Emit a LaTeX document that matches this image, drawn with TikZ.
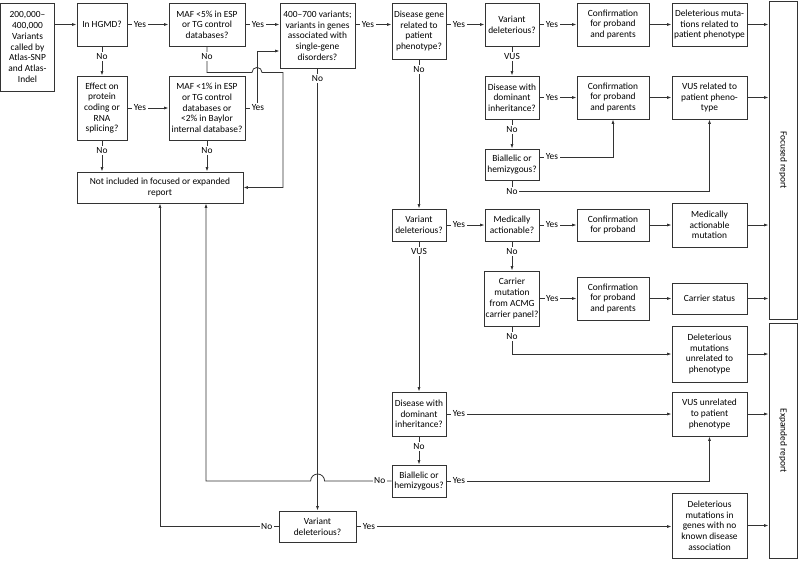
\documentclass[tikz,border=0pt]{standalone}
\usepackage{fontspec}
\setmainfont{Carlito}
\usetikzlibrary{arrows.meta}

\begin{document}
\begin{tikzpicture}[x=1pt,y=-1pt,font=\fontsize{9.4}{10.7}\selectfont,
  box/.style={draw=black!80, line width=0.8pt, align=center, inner sep=1pt},
  sz/.style 2 args={minimum width=#1pt, minimum height=#2pt},
  arr/.style={draw=black!80, line width=0.8pt, -{Latex[length=4.5pt,width=3pt]}},
  rlab/.style={fill=white, inner sep=1.5pt, anchor=west, xshift=4.5pt},
  llab/.style={fill=white, inner sep=1.5pt, anchor=east, xshift=-4.5pt},
  dlab/.style={fill=white, inner sep=1.5pt, anchor=north, yshift=-5pt},
  clab/.style={fill=white, inner sep=1.5pt}]
\useasboundingbox (0,0) rectangle (800,560);

\node[box, sz={54}{88}] (start) at (27.5,47) {200,000--\\400,000\\Variants\\called by\\Atlas-SNP\\and Atlas-\\Indel};
\node[box, sz={50}{43}] (hgmd) at (102,24.5) {In HGMD?};
\node[box, sz={76}{43}] (maf5) at (207,24.5) {MAF <5\% in ESP\\or TG control\\databases?};
\node[box, sz={50}{64}] (effect) at (102,108) {Effect on\\protein\\coding or\\RNA\\splicing?};
\node[box, sz={76}{64}] (maf1) at (207,108) {MAF <1\% in ESP\\or TG control\\databases or\\<2\% in Baylor\\internal database?};
\node[box, sz={166}{31}] (notinc) at (160,187.5) {Not included in focused or expanded\\report};
\node[box, sz={75}{65}] (genes) at (317.5,35.5) {400--700 variants;\\variants in genes\\associated with\\single-gene\\disorders?};
\node[box, sz={54}{56}] (dgene) at (419,31) {Disease gene\\related to\\patient\\phenotype?};
\node[box, sz={54}{43}] (vdel1) at (512,24.5) {Variant\\deleterious?};
\node[box, sz={72}{43}] (conf1) at (613,24.5) {Confirmation\\for proband\\and parents};
\node[box, sz={75}{43}] (delrel) at (709.5,24.5) {Deleterious muta-\\tions related to\\patient phenotype};
\node[box, sz={54}{43}] (dom1) at (512,97.5) {Disease with\\dominant\\inheritance?};
\node[box, sz={72}{43}] (conf2) at (613,97.5) {Confirmation\\for proband\\and parents};
\node[box, sz={75}{43}] (vusrel) at (709.5,97.5) {VUS related to\\patient pheno-\\type};
\node[box, sz={54}{31}] (bial1) at (512,164.5) {Biallelic or\\hemizygous?};
\node[box, sz={54}{32}] (vdel2) at (419,225) {Variant\\deleterious?};
\node[box, sz={54}{32}] (medact) at (512,225) {Medically\\actionable?};
\node[box, sz={72}{32}] (conf4) at (613,225) {Confirmation\\for proband};
\node[box, sz={75}{44}] (medmut) at (709.5,225) {Medically\\actionable\\mutation};
\node[box, sz={54}{55}] (carrier) at (512,298.5) {Carrier\\mutation\\from ACMG\\carrier panel?};
\node[box, sz={72}{43}] (conf3) at (613,298.5) {Confirmation\\for proband\\and parents};
\node[box, sz={75}{31}] (carstat) at (709.5,298.5) {Carrier status};
\node[box, sz={75}{56}] (delunrel) at (709.5,354) {Deleterious\\mutations\\unrelated to\\phenotype};
\node[box, sz={54}{44}] (dom2) at (419,414) {Disease with\\dominant\\inheritance?};
\node[box, sz={75}{44}] (vusunrel) at (709.5,414) {VUS unrelated\\to patient\\phenotype};
\node[box, sz={54}{32}] (bial2) at (419,481) {Biallelic or\\hemizygous?};
\node[box, sz={77}{31}] (vdel3) at (317.5,526.5) {Variant\\deleterious?};
\node[box, sz={75}{65}] (delgenes) at (709.5,525.5) {Deleterious\\mutations in\\genes with no\\known disease\\association};
\node[box, sz={28}{318}, label={[rotate=-90]center:Focused report}] (focused) at (783,160) {};
\node[box, sz={28}{235}, label={[rotate=-90]center:Expanded report}] (expanded) at (783,440.5) {};

\draw[arr] (start.east |- hgmd.west) -- (hgmd.west);
\draw[arr] (hgmd.east) node[rlab]{Yes} -- (maf5.west);
\draw[arr] (maf5.east) node[rlab]{Yes} -- (maf5.east -| genes.west);
\draw[arr] (genes.east |- vdel1.west) node[rlab]{Yes} -- (dgene.west |- vdel1.west);
\draw[arr] (dgene.east |- vdel1.west) node[rlab]{Yes} -- (vdel1.west);
\draw[arr] (vdel1.east) node[rlab]{Yes} -- (conf1.west);
\draw[arr] (conf1) -- (delrel);
\draw[arr] (delrel.east) -- (delrel.east -| focused.west);
\draw[arr] (hgmd.south) node[dlab]{No} -- (effect.north);
\draw[arr] (effect.east) node[rlab]{Yes} -- (maf1.west);
\draw[arr] (effect.south) node[dlab]{No} -- (effect.south |- notinc.north);
\draw[arr] (maf1.south) node[dlab]{No} -- (maf1.south |- notinc.north);
\draw[arr] (maf5.south) node[dlab]{No} -- ++(0,26) -- ++(45,0) arc[start angle=180, end angle=0, radius=5pt] -- ++(21,0) |- (notinc.east);
\draw[arr] (maf1.east) node[rlab]{Yes} -- ++(12,0) |- ([yshift=-15.5pt]genes.west);
\draw[arr] (genes.south) node[dlab]{No} -- (vdel3.north);
\draw[arr] (dgene.south) node[dlab]{No} -- (vdel2.north);

\draw[arr] (vdel1.south) node[dlab]{VUS} -- (dom1.north);
\draw[arr] (dom1.east) node[rlab]{Yes} -- (conf2.west);
\draw[arr] (conf2) -- (vusrel);
\draw[arr] (vusrel.east) -- (vusrel.east -| focused.west);
\draw[arr] (dom1.south) node[dlab]{No} -- (bial1.north);
\draw[arr] ([yshift=7.5pt]bial1.east) node[rlab]{Yes} -| (conf2.south);
\draw[arr] (bial1.south) -- ++(0,11) node[clab]{No} -| (vusrel.south);

\draw[arr] (vdel2.east) node[rlab]{Yes} -- (medact.west);
\draw[arr] (medact.east) node[rlab]{Yes} -- (conf4.west);
\draw[arr] (conf4) -- (medmut);
\draw[arr] (medmut.east) -- (medmut.east -| focused.west);
\draw[arr] (medact.south) node[dlab]{No} -- (carrier.north);
\draw[arr] (carrier.east) node[rlab]{Yes} -- (conf3.west);
\draw[arr] (conf3) -- (carstat);
\draw[arr] (carstat.east) -- (carstat.east -| focused.west);
\draw[arr] (carrier.south) node[dlab]{No} |- (delunrel.west);
\draw[arr] (delunrel.east) -- (delunrel.east -| expanded.west);

\draw[arr] (vdel2.south) node[dlab]{VUS} -- (dom2.north);
\draw[arr] (dom2.east) node[rlab]{Yes} -- (vusunrel.west);
\draw[arr] (vusunrel.east) -- (vusunrel.east -| expanded.west);
\draw[arr] (dom2.south) node[dlab]{No} -- (bial2.north);
\draw[arr] (bial2.east) node[rlab]{Yes} -| (vusunrel.south);
\draw[arr] (bial2.west) node[llab]{No} -- ++(-67,0) arc[start angle=0, end angle=180, radius=7pt] -| ([xshift=46pt]notinc.south);
\draw[arr] (vdel3.west) node[llab]{No} -| (notinc.south);
\draw[arr] (vdel3.east) node[rlab]{Yes} -- (vdel3.east -| delgenes.west);
\draw[arr] (delgenes.east) -- (delgenes.east -| expanded.west);
\end{tikzpicture}
\end{document}
